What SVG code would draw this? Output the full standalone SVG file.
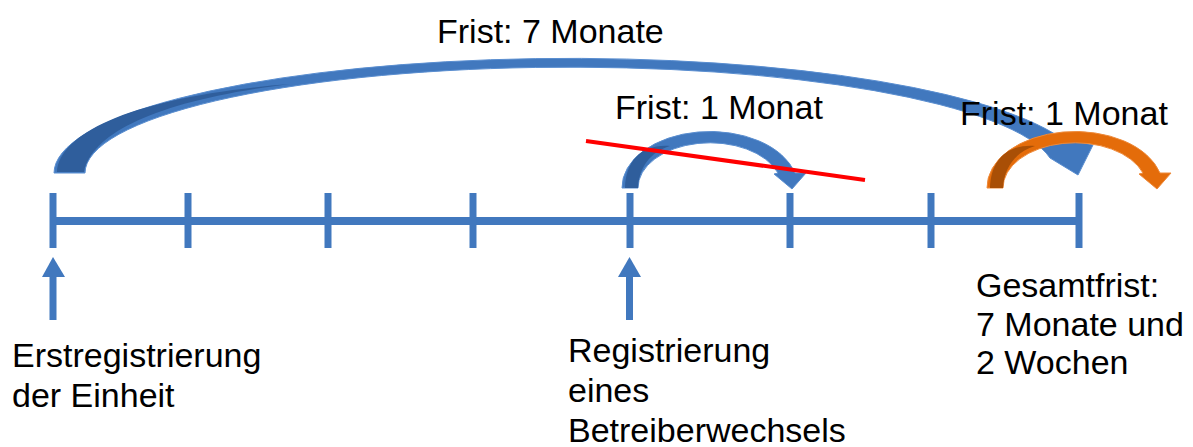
<svg xmlns="http://www.w3.org/2000/svg" width="1193" height="447" viewBox="0 0 1193 447">
  <style>
    .lbl { font-family: "Liberation Sans", Arial, sans-serif; font-size: 34px; fill: #000; }
    .axis { stroke: #4178BE; stroke-width: 8; fill: none; }
    .tick { stroke: #4178BE; stroke-width: 7; fill: none; }
    .blue { fill: #4178BE; stroke: #5A8ED0; stroke-width: 1; }
    .blueDark { fill: #2F5E9C; }
    .orange { fill: #E46C0A; stroke: #EE8A3A; stroke-width: 1; }
    .orangeDark { fill: #A94F06; }
    .uparrow { fill: #4178BE; }
  </style>
  <defs>
    <path id="smallArc" d="M 0 0 A 88 56 0 0 1 173 -15 L 184 -15 L 170 1 L 152 -14 L 156 -15 A 72 45 0 0 0 16 0 Z"/>
    <path id="smallArcDark" d="M 3 0 C 4 -28, 20 -44, 48 -42 C 28 -36, 17 -20, 16 0 Z"/>
  </defs>

  <g id="timeline">
    <line class="axis" x1="53" y1="221" x2="1079" y2="221"/>
    <line class="tick" x1="53" y1="193" x2="53" y2="248"/>
    <line class="tick" x1="188" y1="193" x2="188" y2="248"/>
    <line class="tick" x1="328" y1="193" x2="328" y2="248"/>
    <line class="tick" x1="473" y1="193" x2="473" y2="248"/>
    <line class="tick" x1="630" y1="193" x2="630" y2="248"/>
    <line class="tick" x1="790" y1="193" x2="790" y2="248"/>
    <line class="tick" x1="931" y1="193" x2="931" y2="248"/>
    <line class="tick" x1="1079" y1="193" x2="1079" y2="248"/>
  </g>

  <g id="connectors">
    <g id="arc-7-monate">
      <path class="blue" d="M 54 173 A 516 115 0 0 1 1061 138 L 1093 145 L 1078 175 L 1050 158 A 485 106 0 0 0 85 173 Z"/>
      <path class="blueDark" d="M 57 172 C 60 130, 140 96, 290 84 C 160 100, 92 132, 84 172 Z"/>
    </g>
    <g id="arc-1-monat-mid" transform="translate(622,188)">
      <use href="#smallArc" class="blue"/>
      <use href="#smallArcDark" class="blueDark"/>
    </g>
    <g id="arc-1-monat-right" transform="translate(987,188)">
      <use href="#smallArc" class="orange"/>
      <use href="#smallArcDark" class="orangeDark"/>
    </g>
    <line id="strike" x1="586" y1="141" x2="865" y2="180" stroke="#FF0000" stroke-width="4"/>
    <g id="arrow-erst">
      <rect class="uparrow" x="49.5" y="276" width="7" height="44"/>
      <polygon class="uparrow" points="53,257 65,277 42,277"/>
    </g>
    <g id="arrow-betreiber">
      <rect class="uparrow" x="626" y="276" width="7" height="44"/>
      <polygon class="uparrow" points="629.5,257 641,277 618,277"/>
    </g>
  </g>

  <g id="label-frist7">
    <text class="lbl" x="437" y="43">Frist: 7 Monate</text>
  </g>
  <g id="label-frist1-mid">
    <text class="lbl" x="615" y="119">Frist: 1 Monat</text>
  </g>
  <g id="label-frist1-right">
    <text class="lbl" x="960" y="125">Frist: 1 Monat</text>
  </g>
  <g id="node-erst">
    <text class="lbl" x="12" y="367">Erstregistrierung</text>
    <text class="lbl" x="12" y="407">der Einheit</text>
  </g>
  <g id="node-betreiber">
    <text class="lbl" x="568" y="362">Registrierung</text>
    <text class="lbl" x="568" y="402">eines</text>
    <text class="lbl" x="568" y="442">Betreiberwechsels</text>
  </g>
  <g id="node-gesamt">
    <text class="lbl" x="976" y="297">Gesamtfrist:</text>
    <text class="lbl" x="976" y="336">7 Monate und</text>
    <text class="lbl" x="976" y="374">2 Wochen</text>
  </g>
</svg>
